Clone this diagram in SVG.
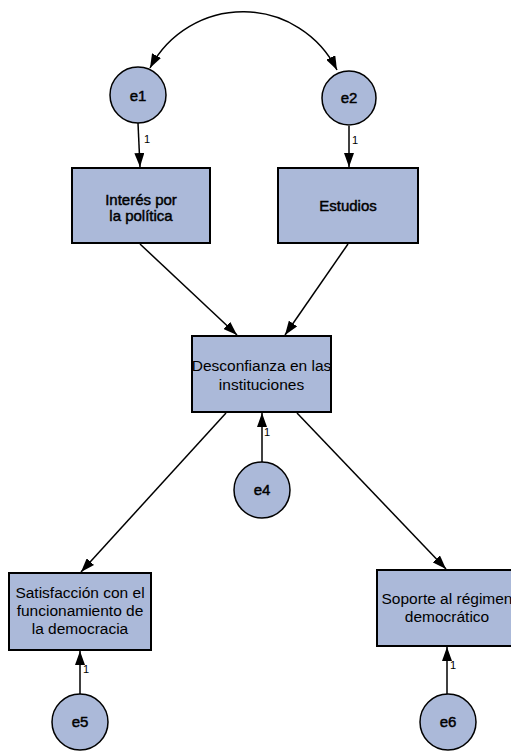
<svg xmlns="http://www.w3.org/2000/svg" width="511" height="751" viewBox="0 0 511 751">
<style>
  .box { fill: #abb9d9; stroke: #000; stroke-width: 2; }
  .lat { fill: #abb9d9; stroke: #000; stroke-width: 1.5; }
  .t { font-family: "Liberation Sans", Arial, sans-serif; font-size: 15.5px; fill: #000; text-anchor: middle; }
  .tb { font-family: "Liberation Sans", Arial, sans-serif; font-size: 15px; fill: #000; stroke: #000; stroke-width: 0.45; text-anchor: middle; }
  .w { font-family: "Liberation Sans", Arial, sans-serif; font-size: 11px; fill: #000; }
  .c { fill: none; stroke: #000; stroke-width: 1.5; marker-end: url(#ah); }
</style>
<defs>
  <marker id="ah" viewBox="0 0 14 10" refX="14" refY="5" markerWidth="14" markerHeight="10" markerUnits="userSpaceOnUse" orient="auto-start-reverse">
    <path d="M0,0 L14,5 L0,10 z" fill="#000"/>
  </marker>
</defs>
<rect width="511" height="751" fill="#fff"/>
<g id="connectors">
  <path class="c" d="M150,68 A105,105 0 0 1 337,70" marker-start="url(#ah)"/>
  <line class="c" x1="138" y1="123" x2="140" y2="167"/>
  <line class="c" x1="349" y1="126" x2="349" y2="167"/>
  <line class="c" x1="140" y1="244" x2="237" y2="335"/>
  <line class="c" x1="348" y1="244" x2="285" y2="335"/>
  <line class="c" x1="226" y1="413" x2="81" y2="572"/>
  <line class="c" x1="297" y1="413" x2="446" y2="569"/>
  <line class="c" x1="262" y1="462" x2="262" y2="413"/>
  <line class="c" x1="80" y1="694" x2="80" y2="651"/>
  <line class="c" x1="447" y1="694" x2="447" y2="647"/>
  <text class="w" x="144" y="143">1</text>
  <text class="w" x="352" y="144">1</text>
  <text class="w" x="264" y="436">1</text>
  <text class="w" x="83" y="673">1</text>
  <text class="w" x="450" y="669">1</text>
</g>
<g id="e1"><circle class="lat" cx="138" cy="95" r="28"/><text class="tb" x="138" y="101">e1</text></g>
<g id="e2"><circle class="lat" cx="349" cy="98" r="27"/><text class="tb" x="349" y="103">e2</text></g>
<g id="interes"><rect class="box" x="72" y="168" width="138" height="75"/><text class="tb" x="141" y="205">Interés por</text><text class="tb" x="141" y="221">la política</text></g>
<g id="estudios"><rect class="box" x="278" y="168" width="140" height="75"/><text class="tb" x="348" y="211">Estudios</text></g>
<g id="desconfianza"><rect class="box" x="192" y="336" width="139" height="76"/><text class="t" x="261.5" y="371">Desconfianza en las</text><text class="t" x="261.5" y="390">instituciones</text></g>
<g id="e4"><circle class="lat" cx="262" cy="490" r="28"/><text class="tb" x="262" y="495">e4</text></g>
<g id="satisfaccion"><rect class="box" x="9" y="573" width="142" height="77"/><text class="t" x="80" y="598">Satisfacción con el</text><text class="t" x="80" y="616">funcionamiento de</text><text class="t" x="80" y="634">la democracia</text></g>
<g id="soporte"><rect class="box" x="377" y="570" width="140" height="76"/><text class="t" x="447" y="604">Soporte al régimen</text><text class="t" x="447" y="622">democrático</text></g>
<g id="e5"><circle class="lat" cx="80" cy="722" r="28"/><text class="tb" x="80" y="727">e5</text></g>
<g id="e6"><circle class="lat" cx="448" cy="722" r="28"/><text class="tb" x="448" y="727">e6</text></g>
</svg>
